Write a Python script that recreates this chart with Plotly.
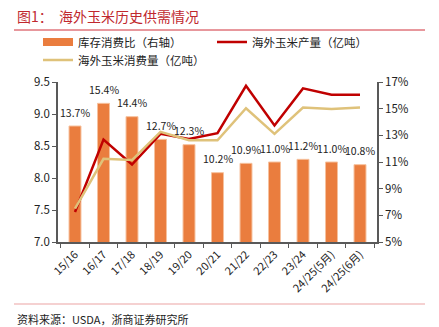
import plotly.graph_objects as go

categories = ["15/16", "16/17", "17/18", "18/19", "19/20", "20/21", "21/22",
              "22/23", "23/24", "24/25(5月)", "24/25(6月)"]
stock_ratio = [13.7, 15.4, 14.4, 12.7, 12.3, 10.2, 10.9, 11.0, 11.2, 11.0, 10.8]
production = [7.47, 8.60, 8.21, 8.69, 8.61, 8.70, 9.44, 8.82, 9.40, 9.30, 9.30]
consumption = [7.52, 8.30, 8.28, 8.72, 8.59, 8.59, 9.09, 8.69, 9.10, 9.08, 9.10]

name_bar = "库存消费比（右轴）"
name_prod = "海外玉米产量（亿吨）"
name_cons = "海外玉米消费量（亿吨）"

FONT = "Noto Sans CJK SC"
BAR_COLOR = "#EA7D3E"
RED = "#C00000"
TAN = "#DFC27A"
W, H = 439, 327

fig = go.Figure()
fig.add_trace(go.Bar(
    x=categories, y=stock_ratio, yaxis="y", name=name_bar,
    marker=dict(color=BAR_COLOR, line=dict(color="#F6C29E", width=1)),
    width=0.42, showlegend=False,
))
# legend proxy for the bar series (wide swatch like the original)
fig.add_trace(go.Scatter(
    x=[None], y=[None], mode="lines", name=name_bar, legend="legend", yaxis="y2",
    line=dict(color=BAR_COLOR, width=8),
))
fig.add_trace(go.Scatter(
    x=categories, y=production, mode="lines", name=name_prod, legend="legend2",
    yaxis="y2", line=dict(color=RED, width=2.5),
))
fig.add_trace(go.Scatter(
    x=categories, y=consumption, mode="lines", name=name_cons, legend="legend3",
    yaxis="y2", line=dict(color=TAN, width=2.5),
))

# bar value labels
for c, v in zip(categories, stock_ratio):
    fig.add_annotation(
        x=c, y=v, xref="x", yref="y", text=f"{v:.1f}%", showarrow=False,
        yanchor="middle", yshift=14, font=dict(size=10.5, color="#222"),
    )

def leg(xpx, ypx):
    return dict(
        orientation="h", xref="container", yref="container",
        x=xpx / W, y=1 - ypx / H, xanchor="left", yanchor="middle",
        font=dict(size=11.5, color="#222"), itemwidth=30,
        bgcolor="rgba(0,0,0,0)", borderwidth=0,
    )

axis_col = "#595959"
fig.update_layout(
    width=W, height=H,
    margin=dict(l=58, r=62, t=82, b=85, autoexpand=False),
    paper_bgcolor="white", plot_bgcolor="white",
    font=dict(family=FONT, size=11, color="#222"),
    showlegend=True,
    legend=leg(38, 42), legend2=leg(212, 42), legend3=leg(38, 60),
    xaxis=dict(
        type="category", tickangle=-45, tickson="boundaries",
        showline=True, linecolor=axis_col, linewidth=1.5,
        ticks="outside", ticklen=4, tickcolor=axis_col,
        tickfont=dict(size=11), showgrid=False,
    ),
    yaxis=dict(
        range=[5, 17], dtick=2, tick0=5, ticksuffix="%", side="right",
        showline=True, linecolor=axis_col, linewidth=1.5,
        ticks="outside", ticklen=4, tickcolor=axis_col,
        showgrid=False, zeroline=False, tickfont=dict(size=11.5),
    ),
    yaxis2=dict(
        range=[7.0, 9.5], dtick=0.5, tick0=7, tickformat=".1f",
        overlaying="y", side="left",
        showline=True, linecolor=axis_col, linewidth=1.5,
        ticks="outside", ticklen=4, tickcolor=axis_col,
        showgrid=False, zeroline=False, tickfont=dict(size=11.5),
    ),
    bargap=0.58,
)

fig.add_annotation(
    text="图1：  海外玉米历史供需情况", xref="paper", yref="paper",
    x=(15 - 58) / 319, y=1 + (82 - 16) / 160, xanchor="left", yanchor="middle",
    showarrow=False, font=dict(family=FONT, size=14, color="#C0282E"),
)
fig.add_annotation(
    text="资料来源：USDA，浙商证券研究所", xref="paper", yref="paper",
    x=(15 - 58) / 319, y=-(319 - 242) / 160, xanchor="left", yanchor="middle",
    showarrow=False, font=dict(family=FONT, size=11, color="#222"),
)
fig.add_shape(type="line", xref="paper", yref="paper",
              x0=(14 - 58) / 319, x1=(425 - 58) / 319,
              y0=1 + (82 - 30) / 160, y1=1 + (82 - 30) / 160,
              line=dict(color="#D0303A", width=1))
fig.add_shape(type="line", xref="paper", yref="paper",
              x0=(14 - 58) / 319, x1=(425 - 58) / 319,
              y0=-(304 - 242) / 160, y1=-(304 - 242) / 160,
              line=dict(color="#EBA3A3", width=1.2))

fig.write_html("out.html")
